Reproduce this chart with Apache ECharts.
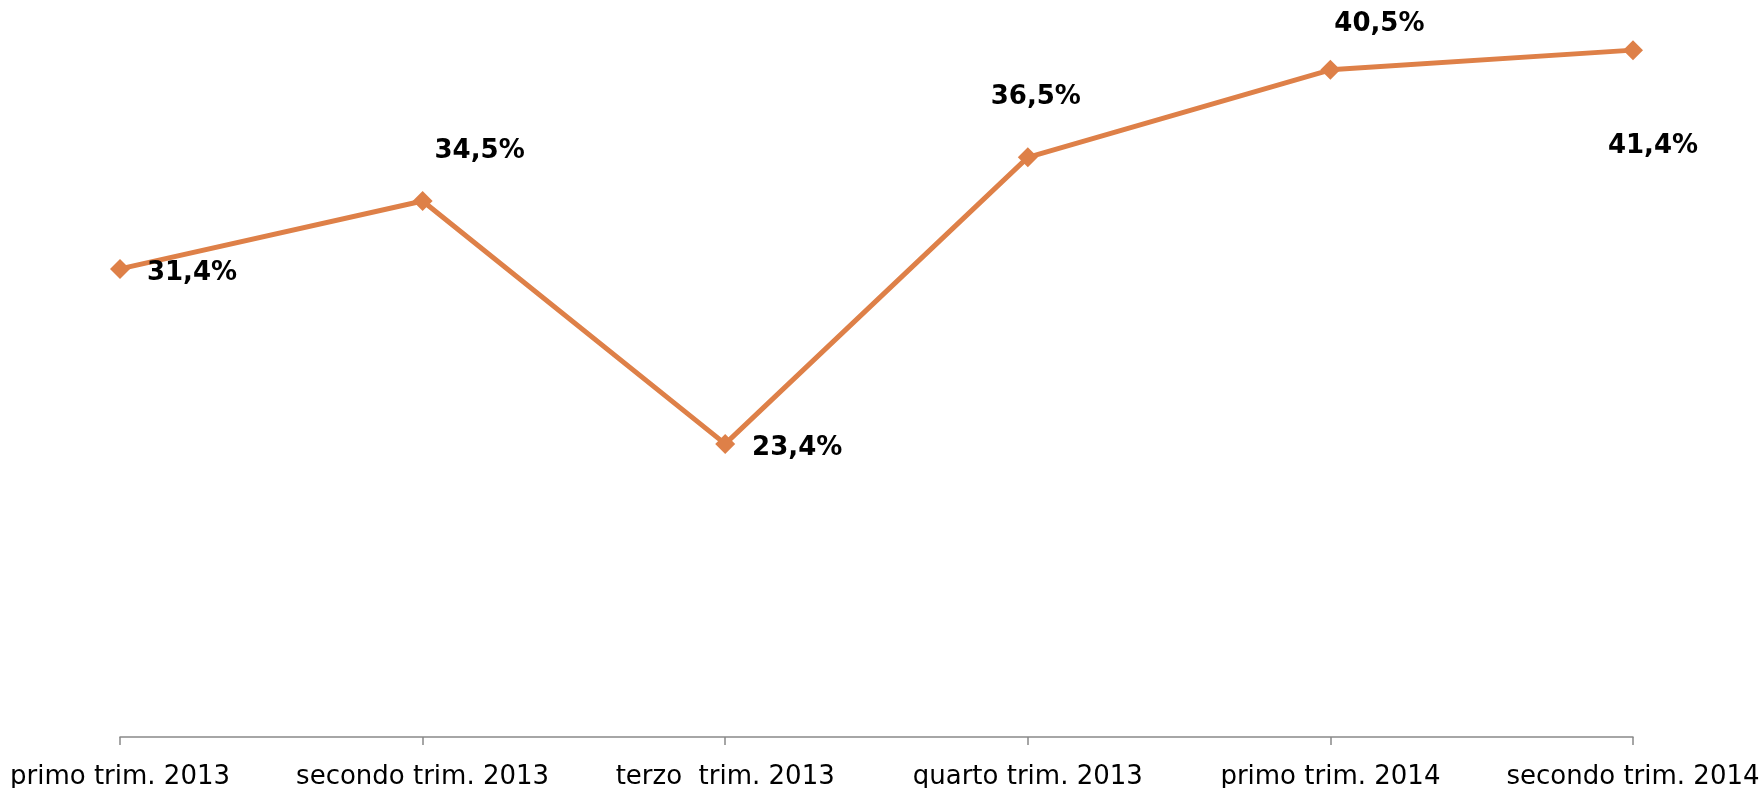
<!DOCTYPE html>
<html>
<head>
<meta charset="utf-8">
<title>Trimestri</title>
<script src="https://cdn.jsdelivr.net/npm/echarts@6/dist/echarts.min.js"></script>
<style>
  html, body { margin: 0; padding: 0; background: #ffffff; }
  #grafico { width: 1760px; height: 788px; }
</style>
</head>
<body>
<div id="grafico"></div>
<script>
// Dati del grafico
var trimestri = ['primo trim. 2013', 'secondo trim. 2013', 'terzo  trim. 2013', 'quarto trim. 2013', 'primo trim. 2014', 'secondo trim. 2014'];
var percentuali = [31.4, 34.5, 23.4, 36.5, 40.5, 41.4];

// Spostamento delle etichette rispetto al punto (solo stile)
var spostamentiEtichette = [[72, 4], [57, -50], [72, 4], [8, -60], [49, -46], [20, 96]];

var grafico = echarts.init(document.getElementById('grafico'));

var puntiSerie = percentuali.map(function (valore, i) {
  return {
    value: valore,
    label: { offset: spostamentiEtichette[i] }
  };
});

var option = {
  animation: false,
  grid: {
    left: 120,
    right: 127,
    top: 37,
    bottom: 51,
    outerBoundsMode: 'none'
  },
  xAxis: {
    type: 'category',
    data: trimestri,
    boundaryGap: false,
    axisLine: {
      lineStyle: { color: '#898989', width: 1.5 }
    },
    axisTick: {
      show: true,
      length: 8,
      lineStyle: { color: '#898989', width: 1.5 }
    },
    axisLabel: {
      margin: 27,
      fontFamily: 'DejaVu Sans',
      fontSize: 26,
      color: '#000000',
      interval: 0
    },
    splitLine: { show: false }
  },
  yAxis: {
    type: 'value',
    min: 10,
    max: 42,
    show: false,
    splitLine: { show: false }
  },
  series: [
    {
      name: 'Percentuale',
      type: 'line',
      data: puntiSerie,
      symbol: 'diamond',
      symbolSize: 20,
      lineStyle: { color: '#DE8048', width: 5 },
      itemStyle: { color: '#DE8048' },
      label: {
        show: true,
        position: 'inside',
        fontFamily: 'DejaVu Sans',
        fontWeight: 'bold',
        fontSize: 26,
        color: '#000000',
        formatter: function (p) {
          return p.value.toFixed(1).replace('.', ',') + '%';
        }
      }
    }
  ]
};

grafico.setOption(option);
</script>
</body>
</html>
